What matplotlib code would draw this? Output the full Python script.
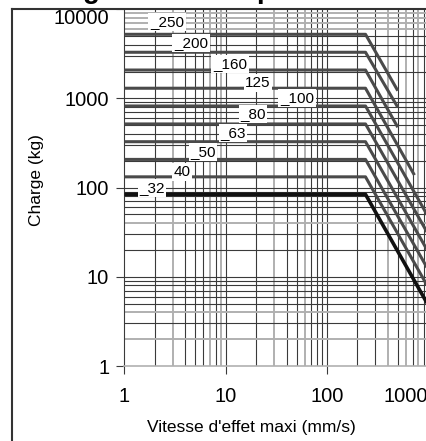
import matplotlib.pyplot as plt
from matplotlib.lines import Line2D
import numpy as np

plt.rcParams['font.family'] = ['Liberation Sans', 'DejaVu Sans']

# values
bores = [32, 40, 50, 63, 80, 100, 125, 160, 200, 250]
charge_max = [84, 132, 207, 327, 517, 822, 1300, 2080, 3290, 5230]
knee_speed = [240, 240, 240, 240, 240, 240, 240, 240, 240, 240]
end_speed = [1000, 1000, 1000, 1000, 1000, 1000, 730, 500, 500, 500]
end_charge = [4.8, 7.6, 12, 19, 30, 47, 138, 475, 795, 1220]
label_text = ["_32", "40", "_50", "_63", "_80", "_100", "125", "_160", "_200", "_250"]

# where the bore labels sit (layout only)
label_pos = [(1.87, 99), (3.7, 150), (5.96, 251), (11.8, 409), (18.6, 668),
             (50.6, 1010), (20.8, 1489), (11.0, 2430), (4.54, 4180), (2.63, 7190)]

W, H = 427, 441
fig = plt.figure(figsize=(W/100, H/100), dpi=100)
ax = fig.add_axes([124.5/W, 1-366/H, (428.25-124.5)/W, (366-9.2)/H])
ax.set_xscale('log')
ax.set_yscale('log')
ax.set_xlim(1, 1000)
ax.set_ylim(1, 10000)

DARK = '#3a3a3a'
GREY = '#b0b0b0'
grey_x = [3, 7, 9, 30, 60, 400, 600, 800]
grey_y = [2, 4, 40, 6000, 7000, 8000, 9000]
for dec in [1, 10, 100]:
    for m in range(1, 10):
        v = dec*m
        if v == 1:
            continue
        if v in grey_x:
            ax.axvline(v, color=GREY, lw=1.4, zorder=1)
        else:
            ax.axvline(v, color=DARK, lw=0.8, zorder=1)
for dec in [1, 10, 100, 1000]:
    for m in range(1, 10):
        v = dec*m
        if v == 1:
            continue
        if v in grey_y:
            ax.axhline(v, color=GREY, lw=1.4, zorder=1)
        else:
            ax.axhline(v, color=DARK, lw=0.8, zorder=1)

for i in range(len(bores)):
    xs = [1, knee_speed[i], end_speed[i]]
    ys = [charge_max[i], charge_max[i], end_charge[i]]
    if bores[i] == 32:
        ax.plot(xs, ys, color='#111111', lw=2.6, zorder=3, solid_capstyle='butt')
    else:
        ax.plot(xs, ys, color='#4a4a4a', lw=2.2, zorder=3, solid_capstyle='butt')

for i in range(len(bores)):
    ax.text(label_pos[i][0], label_pos[i][1], label_text[i], fontsize=11,
            ha='center', va='center', zorder=4,
            bbox=dict(facecolor='white', edgecolor='none', pad=1.2))

for s in ['top', 'right']:
    ax.spines[s].set_visible(False)
ax.spines['left'].set_color(DARK)
ax.spines['left'].set_linewidth(0.8)
ax.spines['bottom'].set_color(GREY)
ax.spines['bottom'].set_linewidth(1.2)

ax.xaxis.set_minor_locator(plt.NullLocator())
ax.yaxis.set_minor_locator(plt.NullLocator())
ax.set_xticks([1, 10, 100, 1000])
ax.set_xticklabels(['1', '10', '100', '1000'])
ax.set_yticks([1, 10, 100, 1000, 10000])
ax.set_yticklabels(['1', '10', '100', '1000', '10000'])
ax.tick_params(axis='both', direction='out', length=6, width=0.8, color=DARK,
               labelsize=14.5, pad=5)
ax.tick_params(axis='x', pad=9)
ax.get_xticklabels()[-1].set_horizontalalignment('right')
ax.get_yticklabels()[-1].set_verticalalignment('top')

ax.set_ylabel("Charge (kg)", fontsize=12.5)
ax.yaxis.set_label_coords((44-124.5)/(428.25-124.5), 0.52)
ax.set_xlabel("Vitesse d'effet maxi (mm/s)", fontsize=12.5)
ax.xaxis.set_label_coords((251-124.5)/(428.25-124.5), -0.15)

# frame of the original sheet + clipped heading
fig.add_artist(Line2D([12/W, 1], [1-9/H, 1-9/H], color='#333333', lw=1.5))
fig.add_artist(Line2D([12/W, 12/W], [0, 1-9/H], color='#333333', lw=1.5))
fig.text(20/W, 1+2/H, "Charge maximale par vérin", fontsize=20, fontweight='bold',
         ha='left', va='baseline')

fig.savefig("out.png", dpi=100)
